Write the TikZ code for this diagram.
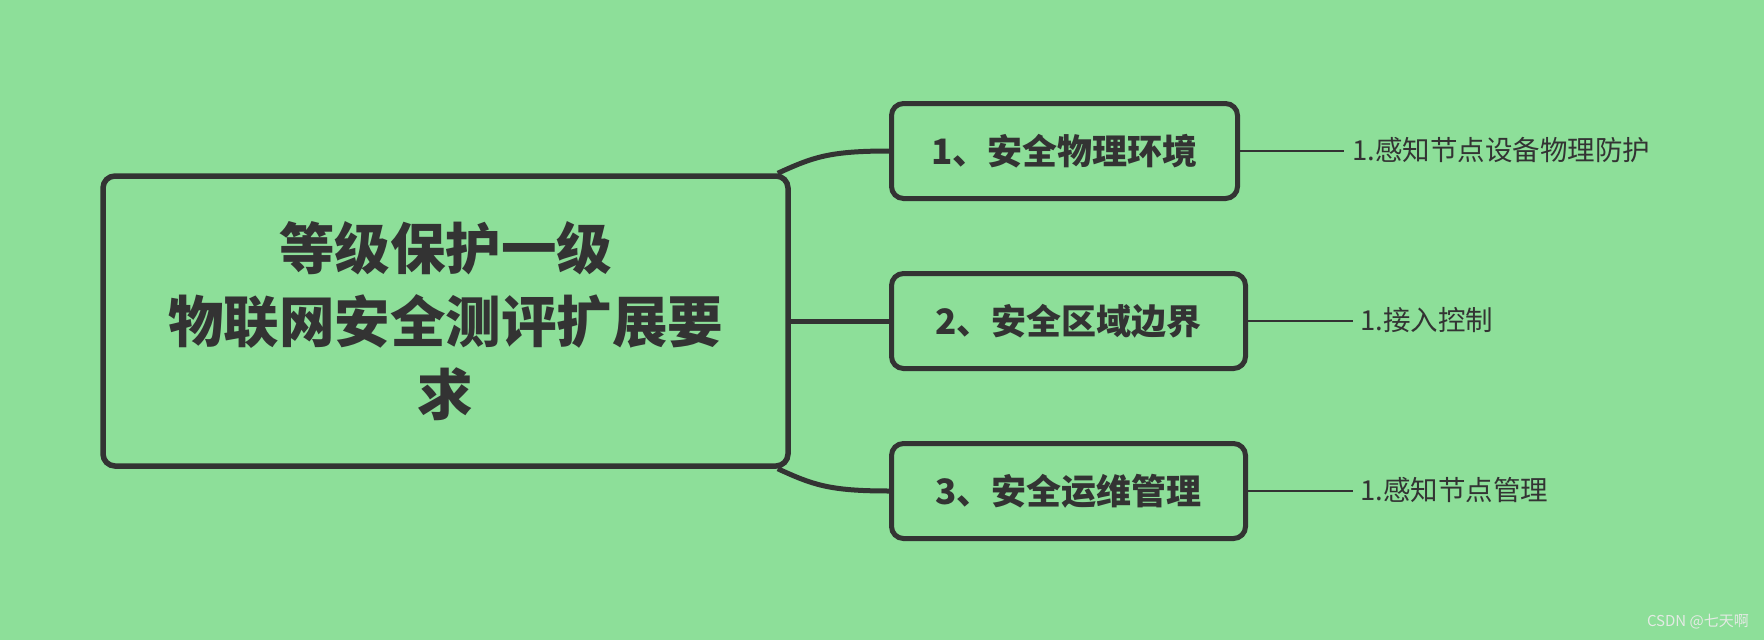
\documentclass[tikz,border=0pt]{standalone}
\usepackage{fontspec}
\setmainfont{Noto Sans CJK SC}
\usetikzlibrary{calc}
\definecolor{bg}{HTML}{8DDF99}
\definecolor{ink}{HTML}{333333}
\definecolor{wm}{HTML}{E4EAE4}
\tikzset{
  mainbox/.style={draw=ink, line width=5.5pt, rounded corners=12pt, minimum width=685pt, minimum height=290pt, inner sep=0pt, text=ink, align=center, font=\fontsize{55.5}{73}\selectfont\bfseries},
  subbox/.style={draw=ink, line width=5pt, rounded corners=12pt, minimum height=95pt, inner sep=0pt, text=ink, font=\fontsize{35}{40}\selectfont\bfseries},
  leaf/.style={anchor=west, inner sep=0pt, text=ink, font=\fontsize{27.5}{30}\selectfont},
  thick link/.style={draw=ink, line width=5pt},
  thin link/.style={draw=ink, line width=2pt},
}
\begin{document}
\begin{tikzpicture}[x=1pt,y=-1pt]
\fill[bg] (0,0) rectangle (1764,640);
\useasboundingbox (0,0) rectangle (1764,640);
\node[mainbox] (main) at (445.5,321) {等级保护一级\\物联网安全测评扩展要\\求};
\node[subbox, minimum width=346pt] (b1) at (1064.5,151) {1、安全物理环境};
\node[subbox, minimum width=354pt] (b2) at (1068.5,321) {2、安全区域边界};
\node[subbox, minimum width=354pt] (b3) at (1068.5,491) {3、安全运维管理};
\coordinate (c1) at ($(main.north east)+(-13,0)$);
\coordinate (c3) at ($(main.south east)+(-13,0)$);
\draw[thick link] (b1.west) .. controls +(-60,0) and +(35,-16) .. (c1);
\draw[thick link] (main.east) -- (b2.west);
\draw[thick link] (b3.west) .. controls +(-60,0) and +(35,16) .. (c3);
\node[leaf] (l1) at (1352,150) {1.感知节点设备物理防护};
\node[leaf] (l2) at (1360,320) {1.接入控制};
\node[leaf] (l3) at (1360,490) {1.感知节点管理};
\coordinate (e1) at (1344,151);
\coordinate (e2) at (1353,321);
\coordinate (e3) at (1353,491);
\draw[thin link] (b1.east) -- (e1);
\draw[thin link] (b2.east) -- (e2);
\draw[thin link] (b3.east) -- (e3);
\node[anchor=east, inner sep=0pt, text=wm, font=\fontsize{15}{18}\selectfont] (wmk) at (1749,622) {CSDN @七天啊};
\end{tikzpicture}
\end{document}
